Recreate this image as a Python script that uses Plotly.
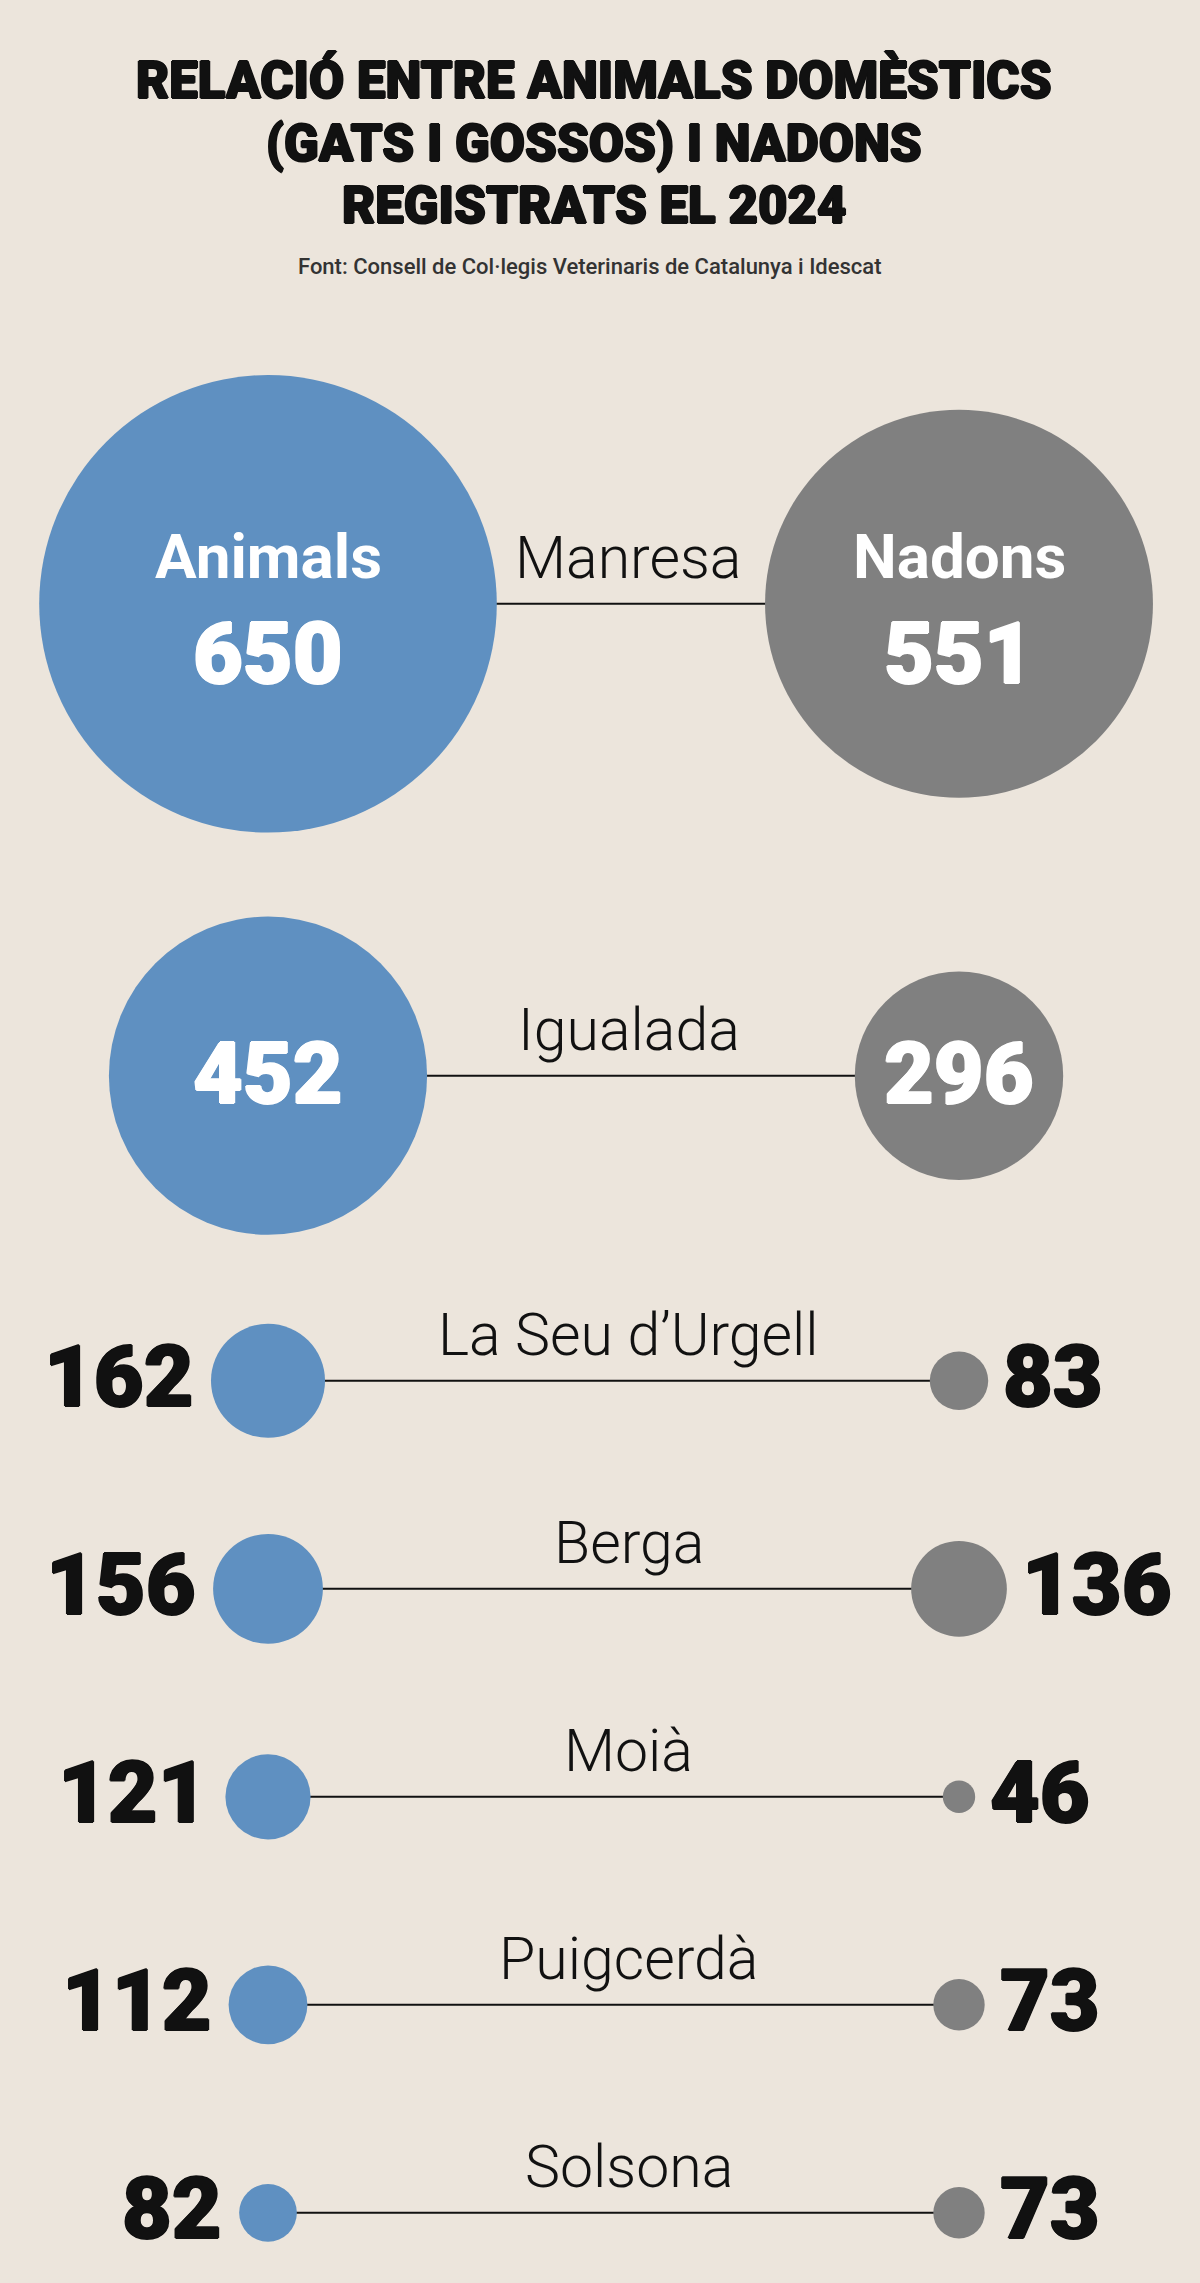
import plotly.graph_objects as go

# ---- data ----
cities = ["Manresa", "Igualada", "La Seu d’Urgell", "Berga", "Moià", "Puigcerdà", "Solsona"]
animals = [650, 452, 162, 156, 121, 112, 82]
nadons = [551, 296, 83, 136, 46, 73, 73]
series_names = ["Animals", "Nadons"]

title_lines = ["RELACIÓ ENTRE ANIMALS DOMÈSTICS", "(GATS I GOSSOS) I NADONS", "REGISTRATS EL 2024"]
source_text = "Font: Consell de Col·legis Veterinaris de Catalunya i Idescat"

# ---- style ----
W, H = 1200, 2283
BG = "#ECE5DC"
BLUE = "#5F90C1"
GREY = "#808080"
INK = "#111111"
R_SCALE = 0.352          # px of radius per unit of value
ROW_PAD = 42
ROW_MIN = 62
TOP = 333
COL_PX = (268, 959)      # pixel centres of the two columns
INSIDE_MIN_R = 100       # labels go inside circles when the circle is big
TITLE_Y = (80, 143, 205)
SOURCE_Y = 266
FAM = "Roboto, Liberation Sans, Arial"


def radius(v):
    return v * R_SCALE


def heavy(color, px=1):
    s = f"{px}px 0px 0px {color}, -{px}px 0px 0px {color}, 0px {px}px 0px {color}, 0px -{px}px 0px {color}"
    return s


# row centres derived from circle sizes
half = [max(radius(a), radius(n), ROW_MIN) + ROW_PAD for a, n in zip(animals, nadons)]
row_y = []
for i, h in enumerate(half):
    if i == 0:
        row_y.append(TOP + h)
    else:
        row_y.append(row_y[-1] + half[i - 1] + h)

# x axis: column index 0/1 mapped so that they fall on COL_PX
span = COL_PX[1] - COL_PX[0]
x_range = [-COL_PX[0] / span, (W - COL_PX[0]) / span]

fig = go.Figure()

# connecting lines
for i, c in enumerate(cities):
    fig.add_trace(go.Scatter(x=[0, 1], y=[row_y[i], row_y[i]], mode="lines",
                             line=dict(color=INK, width=2), hoverinfo="skip",
                             showlegend=False))

# circles
for k, (vals, col) in enumerate([(animals, BLUE), (nadons, GREY)]):
    fig.add_trace(go.Scatter(
        x=[k] * len(vals), y=row_y, mode="markers", name=series_names[k],
        marker=dict(size=[2 * radius(v) for v in vals], color=col,
                    line=dict(width=0), opacity=1),
        showlegend=False, text=cities,
        hovertemplate="%{text}: %{customdata}<extra></extra>", customdata=vals))

ann = []


def num_font(color):
    return dict(family=FAM, size=86, weight=900, color=color, shadow=heavy(color))


for i, c in enumerate(cities):
    # city name
    ann.append(dict(x=0.5, y=row_y[i], xref="x", yref="y", text=c, showarrow=False,
                    xanchor="center", yanchor="middle", xshift=15, yshift=46,
                    font=dict(family=FAM, size=59, weight=300, color=INK)))
    for k, v in enumerate([animals[i], nadons[i]]):
        r = radius(v)
        if r >= INSIDE_MIN_R:
            if i == 0:
                ann.append(dict(x=k, y=row_y[i], xref="x", yref="y", text=series_names[k],
                                showarrow=False, xanchor="center", yanchor="middle",
                                yshift=47,
                                font=dict(family=FAM, size=62, weight=700, color="white")))
                ann.append(dict(x=k, y=row_y[i], xref="x", yref="y", text=str(v),
                                showarrow=False, xanchor="center", yanchor="middle",
                                yshift=-50, font=num_font("white")))
            else:
                ann.append(dict(x=k, y=row_y[i], xref="x", yref="y", text=str(v),
                                showarrow=False, xanchor="center", yanchor="middle",
                                yshift=2, font=num_font("white")))
        else:
            if k == 0:
                ann.append(dict(x=k, y=row_y[i], xref="x", yref="y", text=str(v),
                                showarrow=False, xanchor="right", yanchor="middle",
                                xshift=-(r + 15), yshift=4, font=num_font(INK)))
            else:
                ann.append(dict(x=k, y=row_y[i], xref="x", yref="y", text=str(v),
                                showarrow=False, xanchor="left", yanchor="middle",
                                xshift=(r + 13), yshift=4, font=num_font(INK)))

# title and source
for line, ty in zip(title_lines, TITLE_Y):
    ann.append(dict(x=0.495, y=ty, xref="paper", yref="y", text=line, showarrow=False,
                    xanchor="center", yanchor="middle", align="center",
                    font=dict(family=FAM, size=51, weight=900, color=INK,
                              shadow=heavy(INK))))
ann.append(dict(x=0.492, y=SOURCE_Y, xref="paper", yref="y", text=source_text, showarrow=False,
                xanchor="center", yanchor="middle",
                font=dict(family=FAM, size=22, weight=500, color="#333333")))

fig.update_layout(
    width=W, height=H, margin=dict(l=0, r=0, t=0, b=0),
    paper_bgcolor=BG, plot_bgcolor=BG,
    xaxis=dict(range=x_range, visible=False, fixedrange=True),
    yaxis=dict(range=[H, 0], visible=False, fixedrange=True),
    annotations=ann, showlegend=False,
)

fig.write_html("out.html")
